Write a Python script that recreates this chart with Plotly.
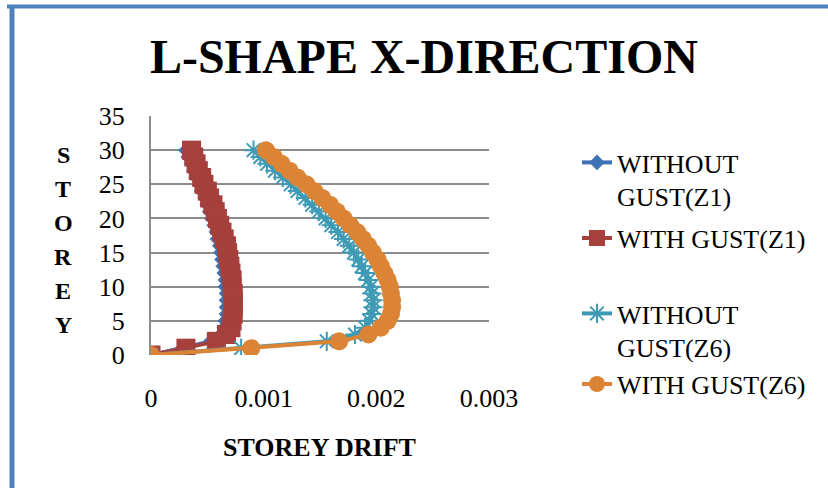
import plotly.graph_objects as go

storey = list(range(0, 31))

# storey drift, storey 0..30
without_gust_z1 = [0, 0.00028, 0.00053, 0.00062, 0.00065, 0.00066, 0.00067, 0.00067, 0.00067, 0.00067,
                   0.00066, 0.00066, 0.00065, 0.00064, 0.00063, 0.00062, 0.00061, 0.00059, 0.00058, 0.00056,
                   0.00054, 0.00052, 0.00050, 0.00048, 0.00045, 0.00043, 0.00040, 0.00038, 0.00036, 0.00033,
                   0.00031]
with_gust_z1 = [0, 0.00031, 0.00058, 0.00067, 0.00071, 0.00072, 0.00073, 0.00073, 0.00073, 0.00073,
                0.00072, 0.00072, 0.00071, 0.00070, 0.00069, 0.00068, 0.00067, 0.00065, 0.00063, 0.00061,
                0.00059, 0.00057, 0.00055, 0.00052, 0.00050, 0.00047, 0.00045, 0.00042, 0.00040, 0.00038,
                0.00036]
without_gust_z6 = [0, 0.00080, 0.00156, 0.00181, 0.00190, 0.00194, 0.00196, 0.00197, 0.00197, 0.00196,
                   0.00195, 0.00193, 0.00190, 0.00187, 0.00184, 0.00180, 0.00176, 0.00171, 0.00166, 0.00160,
                   0.00155, 0.00149, 0.00143, 0.00137, 0.00130, 0.00124, 0.00117, 0.00110, 0.00103, 0.00097,
                   0.00091]
with_gust_z6 = [0, 0.00089, 0.00167, 0.00193, 0.00204, 0.00210, 0.00213, 0.00214, 0.00214, 0.00213,
                0.00212, 0.00210, 0.00207, 0.00204, 0.00201, 0.00197, 0.00193, 0.00188, 0.00183, 0.00177,
                0.00171, 0.00165, 0.00159, 0.00152, 0.00145, 0.00138, 0.00130, 0.00123, 0.00116, 0.00109,
                0.00102]

names = ["WITHOUT<br>GUST(Z1)", "WITH GUST(Z1)", "WITHOUT<br>GUST(Z6)", "WITH GUST(Z6)"]
x_ticks = [0, 0.001, 0.002, 0.003]
x_ticktext = ["0", "0.001", "0.002", "0.003"]

font = "Liberation Serif, Times New Roman, serif"

fig = go.Figure()

fig.add_trace(go.Scatter(x=without_gust_z1, y=storey, name=names[0], mode="lines+markers",
                         line=dict(color="#3f72b5", width=4),
                         marker=dict(symbol="diamond", size=12, color="#3f72b5"),
                         legendgroup="a", legend="legend"))
fig.add_trace(go.Scatter(x=with_gust_z1, y=storey, name=names[1], mode="lines+markers",
                         line=dict(color="#a5403d", width=4),
                         marker=dict(symbol="square", size=19, color="#a5403d"),
                         legendgroup="b", legend="legend"))
fig.add_trace(go.Scatter(x=without_gust_z6, y=storey, name=names[2], mode="lines+markers",
                         line=dict(color="#3f9bb5", width=4),
                         marker=dict(symbol="asterisk-open", size=16, color="#3f9bb5",
                                     line=dict(color="#3f9bb5", width=2)),
                         legendgroup="c", legend="legend2"))
fig.add_trace(go.Scatter(x=with_gust_z6, y=storey, name=names[3], mode="lines+markers",
                         line=dict(color="#dc8435", width=4),
                         marker=dict(symbol="circle", size=18, color="#dc8435"),
                         legendgroup="d", legend="legend2"))

# plot area: x 151..489, y 116..355 px
L, R, T, B = 151, 339, 116, 133
W, H = 828, 488
pw, ph = W - L - R, H - T - B

def px_x(p):
    return (p - L) / pw

def px_y(p):
    return (H - B - p) / ph

# blue frame (top and left edges only visible)
fig.add_shape(type="line", xref="paper", yref="paper", x0=px_x(7), x1=px_x(830), y0=px_y(6.5), y1=px_y(6.5),
              line=dict(color="#4f81bd", width=4))
fig.add_shape(type="line", xref="paper", yref="paper", x0=px_x(12), x1=px_x(12), y0=px_y(5), y1=px_y(490),
              line=dict(color="#4f81bd", width=5))

# vertical y title
for i, ch in enumerate("STOREY"):
    fig.add_annotation(text="<b>%s</b>" % ch, xref="paper", yref="paper", x=px_x(63), y=px_y(155 + 34 * i),
                       xanchor="center", yanchor="middle",
                       showarrow=False, font=dict(family=font, size=24, color="black"))

fig.add_annotation(text="<b>STOREY DRIFT</b>", xref="paper", yref="paper", x=px_x(319), y=px_y(447),
                   xanchor="center", yanchor="middle",
                   showarrow=False, font=dict(family=font, size=26, color="black"))

legend_style = dict(xanchor="left", yanchor="top", valign="top",
                    font=dict(family=font, size=26, color="black"), itemwidth=30,
                    bgcolor="rgba(0,0,0,0)")

fig.update_layout(
    width=W, height=H, autosize=False,
    margin=dict(l=L, r=R, t=T, b=B),
    paper_bgcolor="white", plot_bgcolor="white",
    title=dict(text="<b>L-SHAPE X-DIRECTION</b>", x=0.512, xanchor="center", y=1 - 56 / H, yanchor="middle",
               yref="container", font=dict(family=font, size=48, color="black")),
    font=dict(family=font, size=26, color="black"),
    showlegend=True,
    legend=dict(x=px_x(577), y=px_y(139), tracegroupgap=5, **legend_style),
    legend2=dict(x=px_x(577), y=px_y(290), tracegroupgap=0, **legend_style),
)

fig.update_xaxes(range=[0, 0.003], tickvals=x_ticks, ticktext=x_ticktext, showgrid=False,
                 showline=False, zeroline=False, ticks="", ticklabelstandoff=25,
                 tickfont=dict(family=font, size=26, color="black"), fixedrange=True)
fig.update_yaxes(range=[0, 35], dtick=5, showgrid=True, gridcolor="#8c8c8c", gridwidth=2,
                 showline=True, linecolor="#8c8c8c", linewidth=2, zeroline=False, ticks="",
                 ticklabelstandoff=19, tickfont=dict(family=font, size=26, color="black"), fixedrange=True)

fig.write_html("out.html", config={"displayModeBar": False},
               post_script="document.body.style.margin='0';")
